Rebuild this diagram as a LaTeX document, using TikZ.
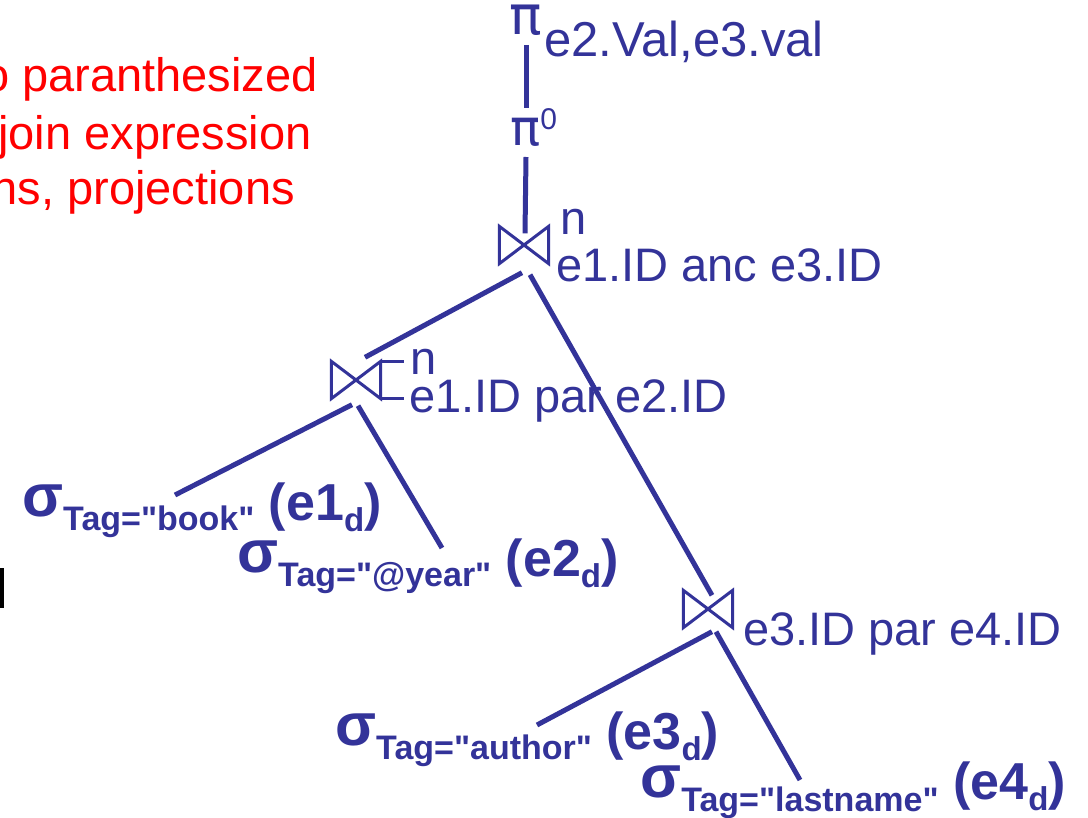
\documentclass[tikz,border=0pt]{standalone}
\usepackage{fontspec}
\setmainfont{Liberation Sans}[Ligatures=TeXOff]
\newfontfamily\pifont{DejaVu Sans}
\usetikzlibrary{positioning,calc}
\definecolor{opblue}{HTML}{333399}
\definecolor{notered}{HTML}{FF0000}

\tikzset{
  edge/.style={draw=opblue, line width=5pt},
  joinop/.style={minimum width=49pt, minimum height=37pt, inner sep=0pt},
  joinline/.style={draw=opblue, line width=3pt, line join=miter},
  cond/.style={text=opblue, inner sep=0pt, anchor=base west, font=\fontsize{47}{56}\selectfont},
  sel/.style={text=opblue, inner sep=0pt, anchor=base west, font=\bfseries\fontsize{52}{60}\selectfont},
  remark/.style={text=notered, inner sep=0pt, anchor=base east, font=\fontsize{47}{56}\selectfont},
}
\newcommand{\subtag}[1]{\raisebox{-14pt}{\fontsize{34}{40}\selectfont #1}}
\newcommand{\subd}[1]{\raisebox{-11pt}{\fontsize{33}{40}\selectfont #1}}
\newcommand{\sigmasym}{{\fontsize{60}{60}\selectfont σ}}

\begin{document}
\begin{tikzpicture}[x=1pt, y=-1pt]
  \path[use as bounding box] (0,0) rectangle (1088,818);

  % remarks, cut off by the left edge
  \node[remark] (note1) at (318,92) {o paranthesized};
  \node[remark] (note2) at (312,150) {join expression};
  \node[remark] (note3) at (295,205) {ns, projections};
  \fill (0,568) rectangle (4,608);

  % projections
  \node[cond, anchor=base, font=\pifont\fontsize{54}{56}\selectfont] (pitop) at (526,35) {π};
  \node[cond, font=\fontsize{49}{56}\selectfont] (pilist) at (544,57) {e2.Val,e3.val};
  \node[cond] (pizero) at (510,146) {{\pifont\fontsize{50}{50}\selectfont π}\raisebox{16pt}{\fontsize{30}{32}\selectfont 0}};

  % joins
  \node[joinop] (j1) at (524,245) {};
  \node[joinop] (j2) at (356,380) {};
  \node[joinop] (j3) at (708,609) {};
  \foreach \j in {j1,j2,j3}
    \draw[joinline] (\j.north west) -- (\j.south east) -- (\j.north east) -- (\j.south west) -- cycle;
  \draw[joinline] (j2.north east) -- ++(23,0) (j2.south east) -- ++(23,0);

  \node[cond] (n1) at (560,235) {n};
  \node[cond] (c1) at (556,282) {e1.ID anc e3.ID};
  \node[cond] (n2) at (410,375) {n};
  \node[cond] (c2) at (409,413) {e1.ID par e2.ID};
  \node[cond] (c3) at (743,645) {e3.ID par e4.ID};

  % selections
  \node[sel] (s1) at (22,516) {\sigmasym\subtag{Tag="book"} \raisebox{-4pt}{(e1\subd{d})}};
  \node[sel] (s2) at (237,572) {\sigmasym\subtag{Tag="@year"} \raisebox{-4pt}{(e2\subd{d})}};
  \node[sel] (s3) at (335,745) {\sigmasym\subtag{Tag="author"} \raisebox{-4pt}{(e3\subd{d})}};
  \node[sel] (s4) at (640,797) {\sigmasym\subtag{Tag="lastname"} \raisebox{-2pt}{(e4\subd{d})}};

  % edges
  \draw[edge] ([shift={(0,10)}]pitop.base) -- ([shift={(16,-38)}]pizero.base west);
  \draw[edge] ([shift={(16,11)}]pizero.base west) -- ([shift={(1,7)}]j1.north);
  \draw[edge] ([shift={(-2,9)}]j1.south) -- ([shift={(9,-4)}]j2.north);
  \draw[edge] ([shift={(6,11)}]j1.south) -- ([shift={(4,5)}]j3.north);
  \draw[edge] ([shift={(-4,6)}]j2.south) -- ([shift={(153,-21)}]s1.base west);
  \draw[edge] ([shift={(2,7)}]j2.south) -- ([shift={(205,-24)}]s2.base west);
  \draw[edge] ([shift={(4,4)}]j3.south) -- ([shift={(202,-20)}]s3.base west);
  \draw[edge] ([shift={(8,4)}]j3.south) -- ([shift={(160,-17)}]s4.base west);
\end{tikzpicture}
\end{document}
